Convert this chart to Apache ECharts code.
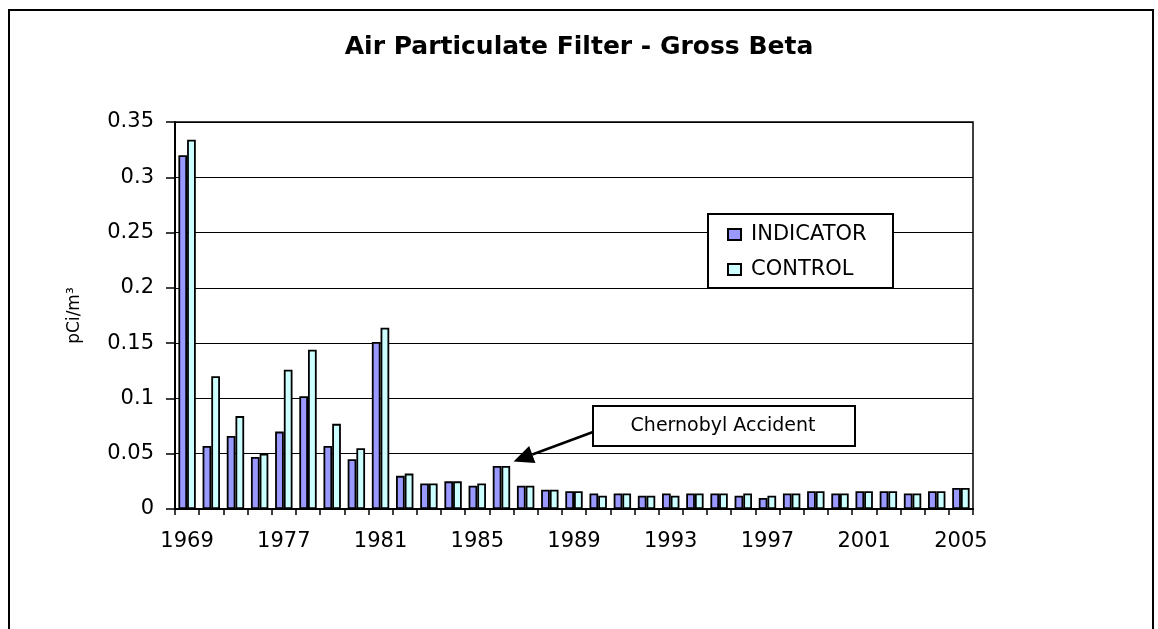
<!DOCTYPE html>
<html>
<head>
<meta charset="utf-8">
<title>Air Particulate Filter - Gross Beta</title>
<script src="https://cdn.jsdelivr.net/npm/echarts@6/dist/echarts.min.js"></script>
<style>
    html, body { margin: 0; padding: 0; background: #fff; }
    #main { width: 1158px; height: 629px; }
</style>
</head>
<body>
<div id="main"></div>
<script>
// years shown as categories (labels every 4th)
var years = ['1969', '1974', '1975', '1976', '1977', '1978', '1979', '1980', '1981', '1982',
    '1983', '1984', '1985', '1986', '1987', '1988', '1989', '1990', '1991', '1992',
    '1993', '1994', '1995', '1996', '1997', '1998', '1999', '2000', '2001', '2002',
    '2003', '2004', '2005'];

var indicator = [0.320, 0.057, 0.066, 0.047, 0.070, 0.102, 0.057, 0.045, 0.151, 0.030,
    0.023, 0.025, 0.021, 0.039, 0.021, 0.0175, 0.016, 0.014, 0.014, 0.012,
    0.014, 0.014, 0.014, 0.012, 0.010, 0.014, 0.016, 0.014, 0.016, 0.016,
    0.014, 0.016, 0.019];

var control = [0.334, 0.120, 0.084, 0.050, 0.126, 0.144, 0.077, 0.055, 0.164, 0.032,
    0.023, 0.025, 0.023, 0.039, 0.021, 0.0175, 0.016, 0.012, 0.014, 0.012,
    0.012, 0.014, 0.014, 0.014, 0.012, 0.014, 0.016, 0.014, 0.016, 0.016,
    0.014, 0.016, 0.019];

// annotation: arrow points just right of the 1986 bars
var noteText = 'Chernobyl Accident';
var noteYear = '1986';
var noteValue = 0.043;

var FONT = '"DejaVu Sans", "Liberation Sans", Arial, sans-serif';

var chart = echarts.init(document.getElementById('main'));

var option = {
    backgroundColor: '#fff',
    animation: false,
    title: {
        text: 'Air Particulate Filter - Gross Beta',
        left: 'center',
        top: 30,
        textStyle: {
            fontFamily: FONT,
            fontSize: 25,
            fontWeight: 'bold',
            color: '#000'
        }
    },
    legend: {
        orient: 'vertical',
        left: 722,
        top: 219,
        itemWidth: 13,
        itemHeight: 11,
        itemGap: 14,
        icon: 'rect',
        textStyle: {
            fontFamily: FONT,
            fontSize: 21,
            color: '#000',
            padding: [0, 0, 0, 5]
        },
        data: ['INDICATOR', 'CONTROL']
    },
    grid: {
        left: 175,
        right: 185,
        top: 122,
        bottom: 120,
        show: true,
        borderColor: '#000',
        borderWidth: 1.5,
        containLabel: false
    },
    xAxis: {
        type: 'category',
        data: years,
        axisLine: { lineStyle: { color: '#000', width: 2 } },
        axisTick: {
            show: true,
            interval: 0,
            length: 6,
            lineStyle: { color: '#000', width: 1.5 }
        },
        axisLabel: {
            interval: 3,
            margin: 22,
            fontFamily: FONT,
            fontSize: 21,
            color: '#000'
        },
        splitLine: { show: false }
    },
    yAxis: {
        type: 'value',
        min: 0,
        max: 0.35,
        interval: 0.05,
        name: 'pCi/m³',
        nameLocation: 'middle',
        nameGap: 92,
        nameTextStyle: {
            fontFamily: FONT,
            fontSize: 17,
            color: '#000'
        },
        axisLine: { show: true, lineStyle: { color: '#000', width: 2 } },
        axisTick: {
            show: true,
            length: 9,
            lineStyle: { color: '#000', width: 1.5 }
        },
        axisLabel: {
            margin: 21,
            fontFamily: FONT,
            fontSize: 21,
            color: '#000',
            formatter: function (v) {
                return String(Math.round(v * 100) / 100);
            }
        },
        splitLine: { show: true, lineStyle: { color: '#000', width: 1.2 } }
    },
    series: [
        {
            name: 'INDICATOR',
            type: 'bar',
            data: indicator,
            barGap: '0%',
            barCategoryGap: '28%',
            itemStyle: { color: '#9999FF', borderColor: '#000', borderWidth: 1.8 }
        },
        {
            name: 'CONTROL',
            type: 'bar',
            data: control,
            itemStyle: { color: '#CCFFFF', borderColor: '#000', borderWidth: 1.8 }
        }
    ]
};

chart.setOption(option);

// arrow tip from the axes, box fixed like the original drawing
var idx = years.indexOf(noteYear);
var pA = chart.convertToPixel({ seriesIndex: 0 }, [idx, noteValue]);
var pB = chart.convertToPixel({ seriesIndex: 0 }, [idx + 1, noteValue]);
var tip = [(pA[0] + pB[0]) / 2, pA[1]];
var start = [593, 432];
var dx = tip[0] - start[0], dy = tip[1] - start[1];
var len = Math.sqrt(dx * dx + dy * dy);
var ux = dx / len, uy = dy / len;
var headLen = 20, headW = 9;
var base = [tip[0] - ux * headLen, tip[1] - uy * headLen];
var head = [
    tip,
    [base[0] - uy * headW, base[1] + ux * headW],
    [base[0] + uy * headW, base[1] - ux * headW]
];

chart.setOption({
    graphic: [
        {
            type: 'rect',
            shape: { x: 9, y: 10, width: 1144, height: 700 },
            style: { fill: null, stroke: '#000', lineWidth: 2 },
            silent: true,
            z: 0
        },
        {
            type: 'rect',
            shape: { x: 708, y: 214, width: 185, height: 74 },
            style: { fill: '#fff', stroke: '#000', lineWidth: 2 },
            silent: true,
            z: 2
        },
        {
            type: 'line',
            shape: { x1: start[0], y1: start[1], x2: base[0], y2: base[1] },
            style: { stroke: '#000', lineWidth: 2.5 },
            silent: true,
            z: 20
        },
        {
            type: 'polygon',
            shape: { points: head },
            style: { fill: '#000' },
            silent: true,
            z: 20
        },
        {
            type: 'rect',
            shape: { x: 593, y: 406, width: 262, height: 40 },
            style: { fill: '#fff', stroke: '#000', lineWidth: 2 },
            silent: true,
            z: 20
        },
        {
            type: 'text',
            x: 723,
            y: 426,
            style: {
                text: noteText,
                fontFamily: FONT,
                fontSize: 19,
                fill: '#000',
                align: 'center',
                verticalAlign: 'middle'
            },
            silent: true,
            z: 21
        }
    ]
});
</script>
</body>
</html>
